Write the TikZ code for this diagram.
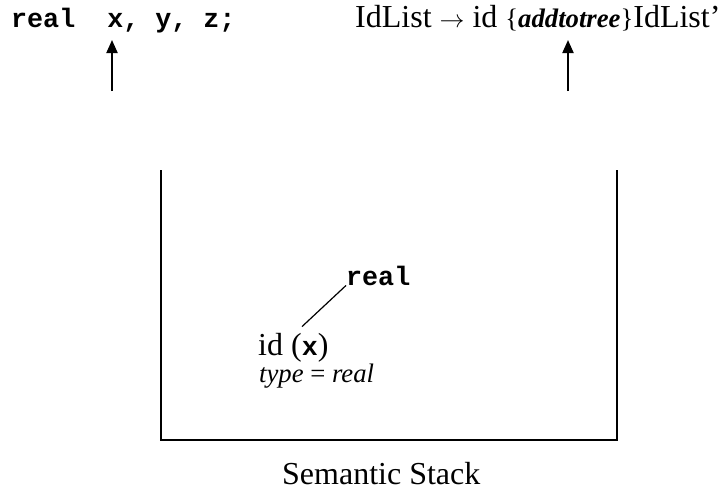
\documentclass[tikz,border=0pt]{standalone}
\usepackage{fontspec}
\setmainfont{Liberation Serif}
\newfontfamily\codefont{Liberation Mono}
\usepackage{tikz}
\usetikzlibrary{arrows.meta, positioning, calc}

\tikzset{
  code/.style={font=\codefont\bfseries\fontsize{26.7}{30}\selectfont},
  big/.style={font=\fontsize{32}{38}\selectfont},
  small/.style={font=\fontsize{26.7}{30}\selectfont},
  pointer/.style={-{Triangle[length=13pt,width=11pt]}, line width=2pt},
  wall/.style={line width=2pt},
}

\begin{document}
\begin{tikzpicture}[x=1pt, y=-1pt, every node/.style={inner sep=0pt, anchor=base west}]
  \useasboundingbox (0,0) rectangle (725,496);

  % Input and production
  \node[code] (decl) at (11,27) {real\ \ x, y, z;};
  \node[big] (rule) at (355,27) {IdList $\rightarrow$ id {\fontsize{26.7}{30}\selectfont\{\textbf{\textit{addtotree}}\}}IdList’};

  % Pointers
  \coordinate (inptr) at (112,91);
  \coordinate (inpos) at (112,40);
  \coordinate (ruleptr) at (568,91);
  \coordinate (rulepos) at (568,40);
  \draw[pointer] (inptr) -- (inpos);
  \draw[pointer] (ruleptr) -- (rulepos);

  % Stack walls
  \coordinate (tl) at (161,170);
  \coordinate (bl) at (161,440);
  \coordinate (br) at (617,440);
  \coordinate (tr) at (617,170);
  \draw[wall] (tl) -- (bl) -- (br) -- (tr);

  % Stack contents
  \node[code] (attr) at (346,285) {real};
  \node[big] (idx) at (258,355) {id ({\codefont\bfseries\fontsize{26.7}{30}\selectfont x})};
  \node[small] (ty) at (259,382) {\textit{type} = \textit{real}};
  \draw[line width=1.2pt] ([shift={(44,-6)}]idx.north west) -- (attr.south west);

  % Caption
  \node[big] (cap) at (282,484) {Semantic Stack};
\end{tikzpicture}
\end{document}
